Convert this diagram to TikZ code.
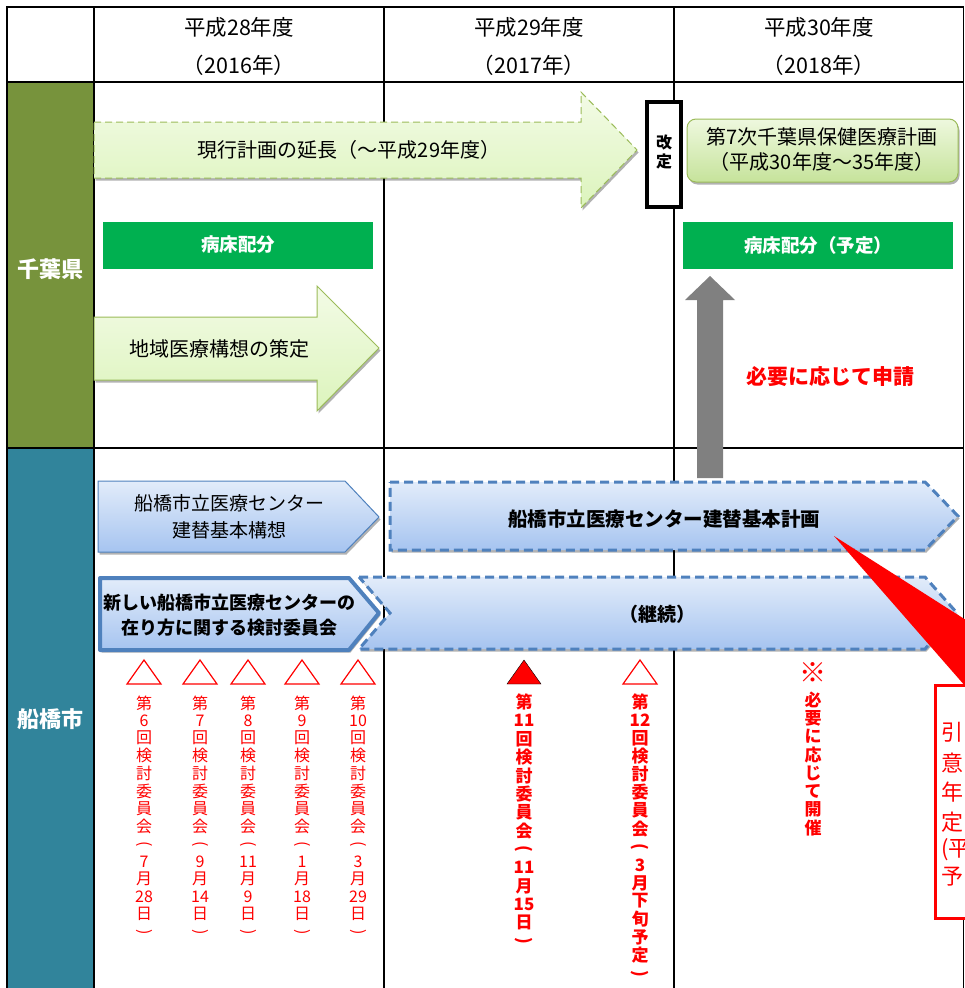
\documentclass[tikz,border=0pt]{standalone}
\usepackage{fontspec}
\usepackage{graphicx}
\setmainfont{Noto Sans CJK JP}
\usetikzlibrary{shadows}
\definecolor{chibaC}{HTML}{77933C}
\definecolor{funaC}{HTML}{31849B}
\definecolor{bedC}{HTML}{00B050}
\definecolor{lgTop}{HTML}{F3FBE6}
\definecolor{lgBot}{HTML}{DCF4BC}
\definecolor{lgB}{HTML}{9BBB59}
\definecolor{rbTop}{HTML}{EEF8DE}
\definecolor{rbBot}{HTML}{C6E39B}
\definecolor{lbTop}{HTML}{E2ECFA}
\definecolor{lbBot}{HTML}{A6C4F0}
\definecolor{blueB}{HTML}{4F81BD}
\definecolor{grayA}{HTML}{808080}
\tikzset{
  gridline/.style={line width=2pt,black},
  colline/.style={line width=1.5pt,black},
  shad/.style={drop shadow={shadow xshift=1.5pt,shadow yshift=-2.5pt,opacity=0.3,fill=black}},
  greenarrow/.style={draw=lgB,line width=1pt,top color=lgTop,bottom color=lgBot,shad},
  greendash/.style={greenarrow,dash pattern=on 7pt off 4pt},
  bluethin/.style={draw=blueB,line width=1pt,top color=lbTop,bottom color=lbBot,shad},
  bluedash/.style={draw=blueB,line width=3pt,dash pattern=on 9pt off 5pt,top color=lbTop,bottom color=lbBot,shad},
  bluethick/.style={draw=blueB,line width=4pt,line join=round,top color=lbTop,bottom color=lbBot,shad},
  hdr/.style={font=\fontsize{21.5}{25}\selectfont,inner sep=0pt},
  lbl/.style={font=\fontsize{20}{25}\selectfont,inner sep=0pt,align=center},
  side/.style={font=\bfseries\fontsize{22}{26}\selectfont,text=white,inner sep=0pt},
  bedbox/.style={fill=bedC},
  bedtxt/.style={font=\bfseries\fontsize{18.5}{22}\selectfont,text=white,inner sep=0pt},
  vt/.style={text=red,font=\fontsize{16}{16}\selectfont,inner sep=0pt},
  vtb/.style={text=red,font=\bfseries\fontsize{17}{17}\selectfont,inner sep=0pt},
  redtxt/.style={text=red,font=\fontsize{22}{22}\selectfont,inner sep=0pt,anchor=west},
  tri/.style={draw=red,line width=1.2pt},
  trifill/.style={fill=red}
}
\newcommand{\vstack}[6]{%
  \foreach \c [count=\i from 0] in {#6} {\node[#5] (#1-\i) at ({#2},{#3+\i*#4}) {\c};}%
}
\newcommand{\LP}{\rotatebox{-90}{(}}
\newcommand{\RP}{\rotatebox{-90}{)}}
\newcommand{\triup}[3]{\draw[#3] ({#1-17},684) -- (#1,660) -- ({#1+17},684) -- cycle;}
\begin{document}
\begin{tikzpicture}[x=1pt,y=-1pt]
\useasboundingbox (0,0) rectangle (964,988);
% side cells
\fill[chibaC] (7,82) rectangle (94,448);
\fill[funaC] (7,448) rectangle (94,988);
\node[side] (chiba) at (50,269) {千葉県};
\node[side] (funa) at (50,719) {船橋市};
% grid
\draw[gridline] (7,988) -- (7,7) -- (964,7);
\draw[gridline] (7,82) -- (964,82);
\draw[gridline] (7,448) -- (964,448);
\draw[colline] (94,7) -- (94,988);
\draw[colline] (384,7) -- (384,988);
\draw[colline] (674,7) -- (674,988);
\draw[line width=1pt] (963,7) -- (963,988);
% header
\node[hdr] (h1a) at (239,27) {平成28年度};
\node[hdr] (h1b) at (239,65) {（2016年）};
\node[hdr] (h2a) at (529,27) {平成29年度};
\node[hdr] (h2b) at (529,65) {（2017年）};
\node[hdr] (h3a) at (819,27) {平成30年度};
\node[hdr] (h3b) at (819,65) {（2018年）};
% Chiba row
\path[greendash] (94,122) -- (581,122) -- (581,92) -- (637,150) -- (581,208) -- (581,178) -- (94,178) -- cycle;
\node[lbl] (ext) at (349,150) {現行計画の延長（～平成29年度）};
\draw[line width=3.5pt,fill=white] (647,102) rectangle (681,207);
\node[font=\bfseries\fontsize{16}{19}\selectfont,align=center,inner sep=0pt] (kaitei) at (664,152) {改\\定};
\path[draw=lgB,line width=1pt,top color=rbTop,bottom color=rbBot,rounded corners=9pt,shad] (687,119) rectangle (958,182);
\node[lbl] (plan7) at (822,150) {第7次千葉県保健医療計画\\（平成30年度～35年度）};
\path[bedbox] (103,222) rectangle (373,269);
\node[bedtxt] (bed1) at (238,245) {病床配分};
\path[bedbox] (683,222) rectangle (953,269);
\node[bedtxt] (bed2) at (818,245) {病床配分（予定）};
\path[greenarrow] (94,317) -- (317,317) -- (317,286) -- (379,348) -- (317,411) -- (317,380) -- (94,380) -- cycle;
\node[lbl] (vision) at (219,349) {地域医療構想の策定};
\fill[grayA] (697,478) -- (697,300) -- (685,300) -- (710,276) -- (735,300) -- (723,300) -- (723,478) -- cycle;
\node[text=red,font=\bfseries\fontsize{21}{25}\selectfont,inner sep=0pt] (apply) at (830,377) {必要に応じて申請};
% Funabashi row
\path[bluethin] (98,481) -- (345,481) -- (379,517) -- (345,552) -- (98,552) -- cycle;
\node[font=\fontsize{19}{27}\selectfont,align=center,inner sep=0pt] (kousou) at (229,517) {船橋市立医療センター\\建替基本構想};
\path[bluedash] (390,482) -- (925,482) -- (958,516) -- (925,550) -- (390,550) -- cycle;
\node[font=\bfseries\fontsize{19.5}{24}\selectfont,inner sep=0pt] (keikaku) at (664,519) {船橋市立医療センター建替基本計画};
\path[bluedash] (359,577) -- (925,577) -- (957,613) -- (925,649) -- (359,649) -- (390,613) -- cycle;
\node[font=\bfseries\fontsize{19}{24}\selectfont,inner sep=0pt] (keizoku) at (657,614) {（継続）};
\path[bluethick] (100,578) -- (349,578) -- (379,613) -- (349,650) -- (100,650) -- cycle;
\node[font=\bfseries\fontsize{18}{25}\selectfont,align=center,inner sep=0pt] (iinkai) at (229,615) {新しい船橋市立医療センターの\\在り方に関する検討委員会};
% triangles
\triup{144}{0}{tri}
\triup{200}{0}{tri}
\triup{248}{0}{tri}
\triup{302}{0}{tri}
\triup{358}{0}{tri}
\triup{524}{0}{trifill}
\triup{640}{0}{tri}
% vertical texts
\vstack{m6}{144}{703}{17.6}{vt}{第,6,回,検,討,委,員,会,\LP,7,月,28,日,\RP}
\vstack{m7}{200}{703}{17.6}{vt}{第,7,回,検,討,委,員,会,\LP,9,月,14,日,\RP}
\vstack{m8}{248}{703}{17.6}{vt}{第,8,回,検,討,委,員,会,\LP,11,月,9,日,\RP}
\vstack{m9}{302}{703}{17.6}{vt}{第,9,回,検,討,委,員,会,\LP,1,月,18,日,\RP}
\vstack{m10}{358}{703}{17.6}{vt}{第,10,回,検,討,委,員,会,\LP,3,月,29,日,\RP}
\vstack{m11}{524}{702}{18.4}{vtb}{第,11,回,検,討,委,員,会,\LP,11,月,15,日,\RP}
\vstack{m12}{640}{702}{18.1}{vtb}{第,12,回,検,討,委,員,会,\LP,3,月,下,旬,予,定,\RP}
\node[text=red,font=\bfseries\fontsize{27}{27}\selectfont,inner sep=0pt] (kome) at (813,673) {※};
\vstack{hit}{813}{700}{18.3}{vtb}{必,要,に,応,じ,て,開,催}
% red callout
\fill[red] (834,536) -- (966,620) -- (966,687) -- cycle;
\draw[red,line width=3pt,fill=white] (935,685) rectangle (975,918);
\begin{scope}
\clip (937,687) rectangle (964,916);
\node[redtxt] (c1) at (941,732) {引};
\node[redtxt] (c2) at (941,763) {意};
\node[redtxt] (c3) at (941,792) {年};
\node[redtxt] (c4) at (941,822) {定};
\node[redtxt] (c5) at (941,850) {(平};
\node[redtxt] (c6) at (941,877) {予};
\end{scope}
\end{tikzpicture}
\end{document}
